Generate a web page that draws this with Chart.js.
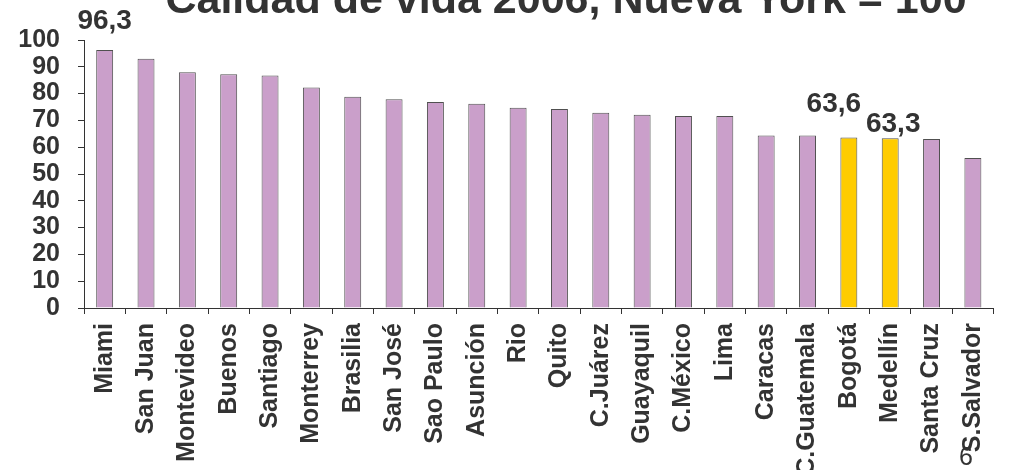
<!DOCTYPE html>
<html>
<head>
<meta charset="utf-8">
<script src="https://cdn.jsdelivr.net/npm/chart.js@4/dist/chart.umd.min.js"></script>
<style>
  html, body { margin: 0; padding: 0; background: #ffffff; }
  #wrap { width: 1012px; height: 470px; position: relative; }
</style>
</head>
<body>
<div id="wrap"><canvas id="c" width="1012" height="470"></canvas></div>
<script>
const titleText = "Calidad de vida 2006, Nueva York = 100";
const slideNumber = "6";
const categories = ["Miami", "San Juan", "Montevideo", "Buenos", "Santiago", "Monterrey", "Brasilia", "San José", "Sao Paulo", "Asunción", "Rio", "Quito", "C.Juárez", "Guayaquil", "C.México", "Lima", "Caracas", "C.Guatemala", "Bogotá", "Medellín", "Santa Cruz", "S.Salvador"];
const values = [96.3, 93.0, 88.0, 87.2, 86.8, 82.3, 78.8, 77.9, 76.9, 76.2, 74.7, 74.3, 72.9, 72.1, 71.6, 71.6, 64.4, 64.4, 63.6, 63.3, 63.1, 56.0];
const highlighted = ["Bogotá", "Medellín"];
const valueLabels = { "Miami": "96,3", "Bogotá": "63,6", "Medellín": "63,3" };
const yTickValues = [0, 10, 20, 30, 40, 50, 60, 70, 80, 90, 100];

const FONT = "'Liberation Sans', Arial, Helvetica, sans-serif";
const TEXT = "#333333";
const AXIS = "#333333";
const PURPLE = "#CA9FCA";
const YELLOW = "#FFCC00";

const barColors = categories.map(c => highlighted.includes(c) ? YELLOW : PURPLE);

// label placement relative to bar top (pixels)
const labelOffsets = { "Miami": [0, -29], "Bogotá": [-15, -33], "Medellín": [3, -14] };

const extrasPlugin = {
  id: 'extras',
  afterDatasetsDraw(chart) {
    const ctx = chart.ctx;
    const meta = chart.getDatasetMeta(0);
    ctx.save();
    ctx.fillStyle = TEXT;
    ctx.font = "bold 28px " + FONT;
    ctx.textAlign = 'center';
    ctx.textBaseline = 'middle';
    categories.forEach((c, i) => {
      if (!valueLabels[c]) return;
      const el = meta.data[i];
      const off = labelOffsets[c] || [0, -15];
      ctx.fillText(valueLabels[c], el.x + off[0], el.y + off[1]);
    });
    ctx.restore();
  },
  afterDraw(chart) {
    const ctx = chart.ctx;
    ctx.save();
    ctx.fillStyle = TEXT;
    ctx.font = "bold 43px " + FONT;
    ctx.textAlign = 'center';
    ctx.textBaseline = 'alphabetic';
    ctx.fillText(titleText, 566, 13);
    ctx.font = "25px " + FONT;
    ctx.textBaseline = 'middle';
    ctx.fillText(slideNumber, 966, 458);
    ctx.restore();
  }
};

new Chart(document.getElementById('c'), {
  type: 'bar',
  data: {
    labels: categories,
    datasets: [{
      data: values,
      backgroundColor: barColors,
      borderColor: '#505050',
      borderWidth: 1,
      barPercentage: 0.41,
      categoryPercentage: 1.0
    }]
  },
  plugins: [extrasPlugin],
  options: {
    responsive: false,
    animation: false,
    devicePixelRatio: 1,
    layout: { padding: { top: 40, right: 5, left: 0, bottom: 0 } },
    plugins: {
      legend: { display: false },
      tooltip: { enabled: false },
      title: { display: false }
    },
    scales: {
      x: {
        offset: true,
        grid: { display: true, drawOnChartArea: false, drawTicks: true, tickLength: 6, color: AXIS, offset: true },
        border: { display: true, color: AXIS, width: 1 },
        ticks: {
          autoSkip: false,
          minRotation: 90,
          maxRotation: 90,
          padding: 9,
          color: TEXT,
          font: { family: FONT, size: 25, weight: 'bold' }
        },
        afterFit(scale) { scale.height = 162; }
      },
      y: {
        min: 0,
        max: 100,
        afterBuildTicks(scale) { scale.ticks = yTickValues.map(v => ({ value: v })); },
        grid: { display: true, drawOnChartArea: false, drawTicks: true, tickLength: 6, color: AXIS },
        border: { display: true, color: AXIS, width: 1 },
        ticks: {
          autoSkip: false,
          stepSize: 10,
          padding: 18,
          color: TEXT,
          font: { family: FONT, size: 25, weight: 'bold', lineHeight: 1 }
        },
        afterFit(scale) { scale.width = 84; }
      }
    }
  }
});
</script>
</body>
</html>
